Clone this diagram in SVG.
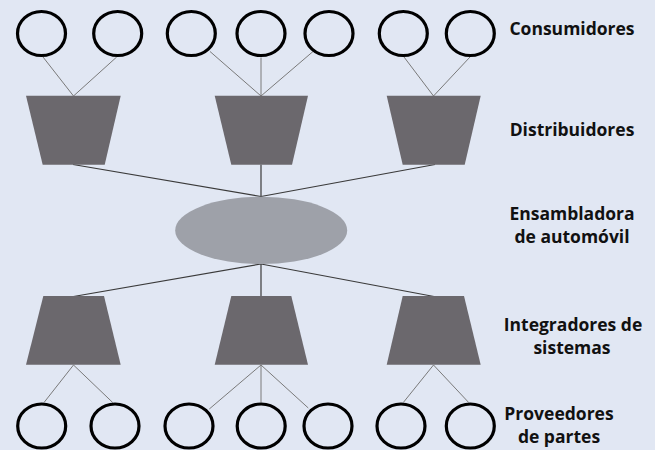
<svg xmlns="http://www.w3.org/2000/svg" width="655" height="450" viewBox="0 0 655 450">
  <style>
    .bg { fill: #E1E7F3; }
    .circ { fill: none; stroke: #000000; stroke-width: 3.2; }
    .trap { fill: #6B686D; }
    .thin { stroke: #7A7A7A; stroke-width: 1; fill: none; }
    .main { stroke: #3A3A3A; stroke-width: 1.2; fill: none; }
    .lbl { font-family: "Open Sans", "Liberation Sans", sans-serif; font-weight: bold; font-size: 17.5px; fill: #111111; text-anchor: middle; }
  </style>
  <rect class="bg" x="0" y="0" width="655" height="450"/>

  <g id="connectors">
    <line class="thin" x1="43" y1="57" x2="73.5" y2="96"/>
    <line class="thin" x1="116.7" y1="57" x2="73.5" y2="96"/>
    <line class="thin" x1="210" y1="51.5" x2="261" y2="96"/>
    <line class="thin" x1="261" y1="57.5" x2="261" y2="96"/>
    <line class="thin" x1="313" y1="51.5" x2="261" y2="96"/>
    <line class="thin" x1="404" y1="57" x2="433.5" y2="96"/>
    <line class="thin" x1="470" y1="57" x2="433.5" y2="96"/>
    <line class="main" x1="73" y1="164.5" x2="261" y2="196.5"/>
    <line class="main" x1="261" y1="164.5" x2="261" y2="196.5"/>
    <line class="main" x1="435" y1="164.5" x2="261" y2="196.5"/>
    <line class="main" x1="261" y1="264" x2="73.5" y2="296.5"/>
    <line class="main" x1="261" y1="264" x2="261" y2="296.5"/>
    <line class="main" x1="261" y1="264" x2="434" y2="296.5"/>
    <line class="thin" x1="73.5" y1="365" x2="44" y2="402.5"/>
    <line class="thin" x1="73.5" y1="365" x2="112.7" y2="402.5"/>
    <line class="thin" x1="261" y1="365" x2="209.3" y2="409"/>
    <line class="thin" x1="261" y1="365" x2="261" y2="402.5"/>
    <line class="thin" x1="261" y1="365" x2="308.3" y2="408"/>
    <line class="thin" x1="433.5" y1="365" x2="403.3" y2="402.5"/>
    <line class="thin" x1="433.5" y1="365" x2="468.7" y2="402.5"/>
  </g>

  <g id="consumidores">
    <ellipse class="circ" cx="41.5" cy="33.5" rx="24" ry="22"/>
    <ellipse class="circ" cx="117.7" cy="33.5" rx="24" ry="22"/>
    <ellipse class="circ" cx="191.3" cy="33.5" rx="24" ry="22"/>
    <ellipse class="circ" cx="261" cy="33.5" rx="24" ry="22"/>
    <ellipse class="circ" cx="329" cy="33.5" rx="24" ry="22"/>
    <ellipse class="circ" cx="403.3" cy="33.5" rx="24" ry="22"/>
    <ellipse class="circ" cx="470.3" cy="33.5" rx="24" ry="22"/>
  </g>

  <g id="distribuidores">
    <polygon class="trap" points="26,95.7 120.7,95.7 104.7,164.7 42.7,164.7"/>
    <polygon class="trap" points="214.7,95.7 308,95.7 292,164.7 231.3,164.7"/>
    <polygon class="trap" points="386.7,95.7 480.7,95.7 464.7,164.7 402.7,164.7"/>
  </g>

  <g id="ensambladora">
    <ellipse cx="261.2" cy="230.4" rx="86" ry="33.6" fill="#9EA1A9"/>
  </g>

  <g id="integradores">
    <polygon class="trap" points="43.3,296 104,296 120.7,364.7 26,364.7"/>
    <polygon class="trap" points="231.3,296 291.3,296 308,364.7 214.7,364.7"/>
    <polygon class="trap" points="402.7,296 464,296 480.7,364.7 386.7,364.7"/>
  </g>

  <g id="proveedores">
    <ellipse class="circ" cx="41.7" cy="426" rx="24" ry="22"/>
    <ellipse class="circ" cx="115" cy="426" rx="24" ry="22"/>
    <ellipse class="circ" cx="189" cy="426" rx="24" ry="22"/>
    <ellipse class="circ" cx="261.2" cy="426" rx="24" ry="22"/>
    <ellipse class="circ" cx="328" cy="426" rx="24" ry="22"/>
    <ellipse class="circ" cx="401" cy="426" rx="24" ry="22"/>
    <ellipse class="circ" cx="470.3" cy="426" rx="24" ry="22"/>
  </g>

  <g id="labels">
    <text class="lbl" x="572" y="35">Consumidores</text>
    <text class="lbl" x="572" y="136">Distribuidores</text>
    <text class="lbl" x="572" y="220">Ensambladora</text>
    <text class="lbl" x="572" y="242.5">de automóvil</text>
    <text class="lbl" x="573" y="331">Integradores de</text>
    <text class="lbl" x="572" y="353.5">sistemas</text>
    <text class="lbl" x="559" y="420">Proveedores</text>
    <text class="lbl" x="559" y="442.5">de partes</text>
  </g>
</svg>
